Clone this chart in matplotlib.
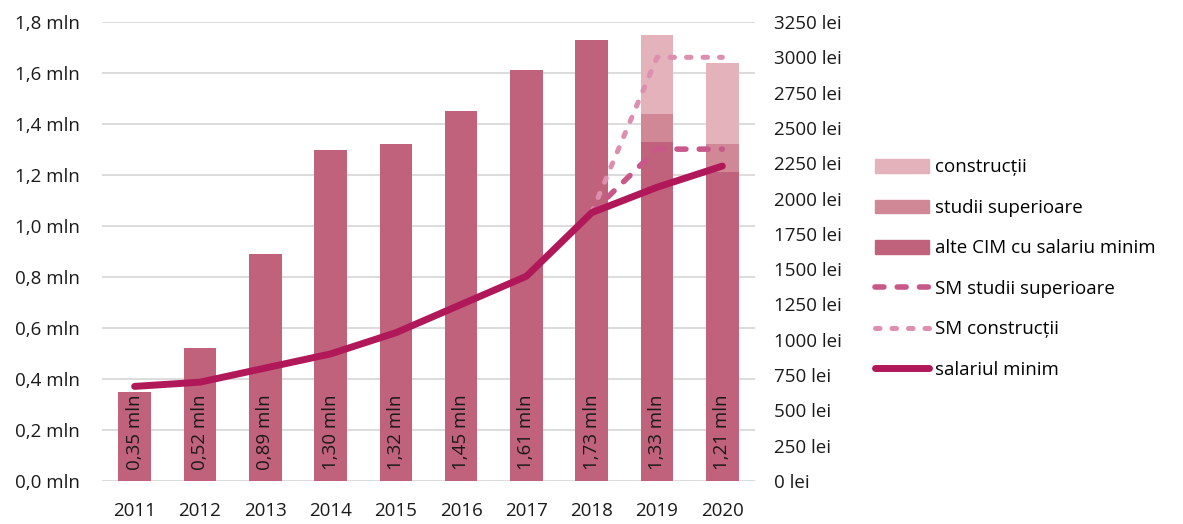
import matplotlib.pyplot as plt
from matplotlib.lines import Line2D
from matplotlib.patches import Patch
import numpy as np

plt.rcParams['font.family'] = ['Open Sans', 'DejaVu Sans']

# data
years = ['2011', '2012', '2013', '2014', '2015', '2016', '2017', '2018', '2019', '2020']
alte_cim = [0.35, 0.52, 0.89, 1.30, 1.32, 1.45, 1.61, 1.73, 1.33, 1.21]
studii_sup = [0, 0, 0, 0, 0, 0, 0, 0, 0.11, 0.11]
constructii = [0, 0, 0, 0, 0, 0, 0, 0, 0.31, 0.32]
salariul_minim = [670, 700, 800, 900, 1050, 1250, 1450, 1900, 2080, 2230]
sm_studii = [np.nan] * 7 + [1900, 2350, 2350]
sm_constructii = [np.nan] * 7 + [1900, 3000, 3000]
left_ticks = [0, 0.2, 0.4, 0.6, 0.8, 1.0, 1.2, 1.4, 1.6, 1.8]
right_ticks = list(range(0, 3251, 250))

c_alte = '#C0627B'
c_studii = '#D08896'
c_constr = '#E3B2BB'
c_sm = '#B0185A'
c_sm_studii = '#C9588A'
c_sm_constr = '#DE8EAE'
fs = 13.5
dash_st = (0, (1.6, 2.4))
dot_st = (0, (0.9, 2.4))

fig = plt.figure(figsize=(11.83, 5.24), dpi=100)
ax = fig.add_axes([0.0862, 0.082, 0.552, 0.876])
x = np.arange(len(years))
w = 0.5

alte = np.array(alte_cim)
stud = np.array(studii_sup)
cons = np.array(constructii)
ax.bar(x, alte, w, color=c_alte, zorder=2)
ax.bar(x, stud, w, bottom=alte, color=c_studii, zorder=2)
ax.bar(x, cons, w, bottom=alte + stud, color=c_constr, zorder=2)

for xi, v in zip(x, alte_cim):
    ax.text(xi, 0.045, f'{v:.2f} mln'.replace('.', ','), rotation=90,
            ha='center', va='bottom', fontsize=fs, color='#1a1a1a', zorder=3)

ax.set_xlim(-0.5, len(years) - 0.5)
ax.set_ylim(0, 1.8)
ax.set_yticks(left_ticks)
ax.set_yticklabels([f'{t:.1f} mln'.replace('.', ',') for t in left_ticks])
ax.set_xticks(x)
ax.set_xticklabels(years)
ax.yaxis.grid(True, color='#D9D9D9', linewidth=1.3, zorder=0)
ax.set_axisbelow(True)
for s in ax.spines.values():
    s.set_visible(False)
ax.tick_params(length=0, labelsize=fs, colors='#1a1a1a')
ax.tick_params(axis='y', pad=16)
ax.tick_params(axis='x', pad=15)

ax2 = ax.twinx()
ax2.set_ylim(0, 3250)
ax2.set_yticks(right_ticks)
ax2.set_yticklabels([f'{t} lei' for t in right_ticks])
for s in ax2.spines.values():
    s.set_visible(False)
ax2.tick_params(length=0, labelsize=fs, colors='#1a1a1a', pad=14)

ax2.plot(x, sm_constructii, color=c_sm_constr, linewidth=3.6, linestyle=dot_st,
         dash_capstyle='round', zorder=3)
ax2.plot(x, sm_studii, color=c_sm_studii, linewidth=4, linestyle=dash_st,
         dash_capstyle='round', zorder=4)
ax2.plot(x, salariul_minim, color=c_sm, linewidth=5, solid_capstyle='round',
         solid_joinstyle='round', zorder=5)

handles = [
    Patch(color=c_constr),
    Patch(color=c_studii),
    Patch(color=c_alte),
    Line2D([], [], color=c_sm_studii, linewidth=4, linestyle=dash_st, dash_capstyle='round'),
    Line2D([], [], color=c_sm_constr, linewidth=3.6, linestyle=dot_st, dash_capstyle='round'),
    Line2D([], [], color=c_sm, linewidth=5, solid_capstyle='round'),
]
labels = ['construcții', 'studii superioare', 'alte CIM cu salariu minim',
          'SM studii superioare', 'SM construcții', 'salariul minim']
fig.legend(handles, labels, loc='upper left', bbox_to_anchor=(0.733, 0.712),
           frameon=False, fontsize=fs, handlelength=2.9, handleheight=0.75,
           handletextpad=0.3, labelspacing=1.2, borderaxespad=0)

fig.savefig('out.png', dpi=100)
